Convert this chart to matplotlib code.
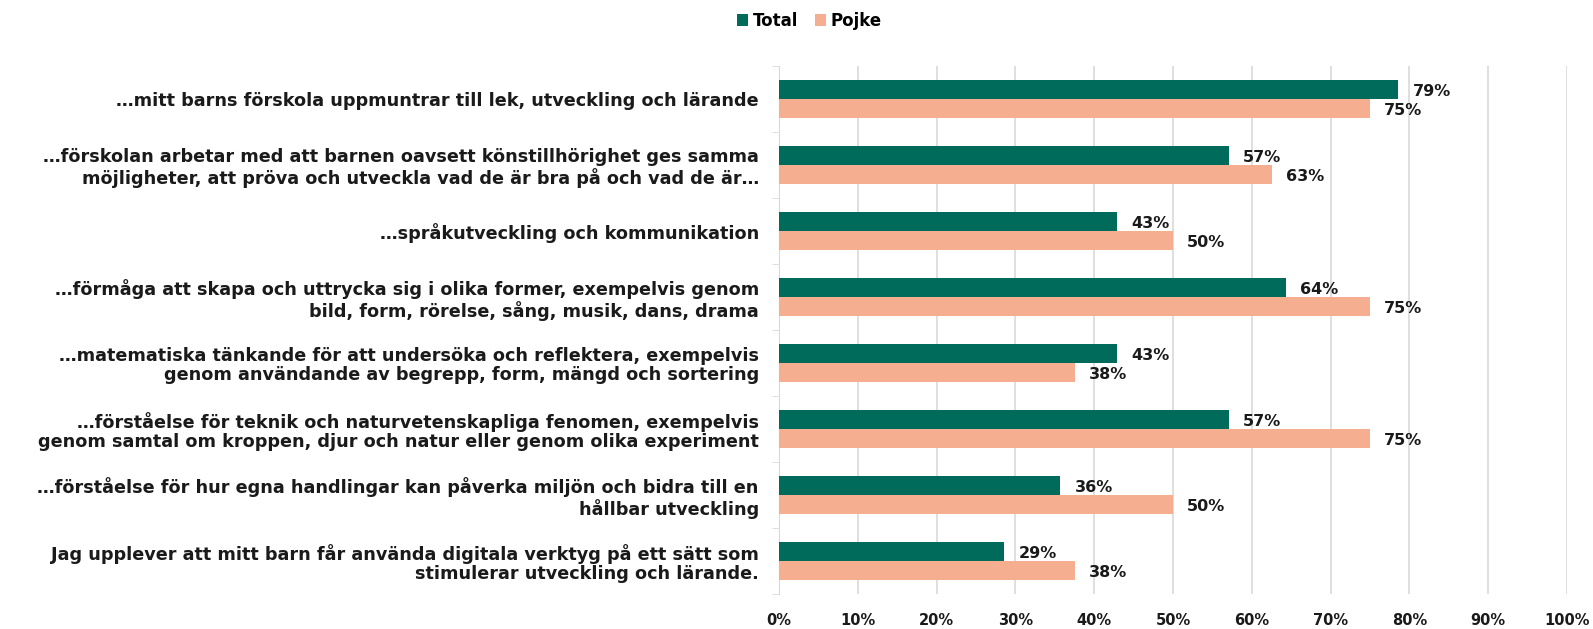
import numpy as np
import matplotlib.pyplot as plt
from matplotlib.ticker import FuncFormatter, FixedLocator

categories = [
    '…mitt barns förskola uppmuntrar till lek, utveckling och lärande',
    '…förskolan arbetar med att barnen oavsett könstillhörighet ges samma\nmöjligheter, att pröva och utveckla vad de är bra på och vad de är…',
    '…språkutveckling och kommunikation',
    '…förmåga att skapa och uttrycka sig i olika former, exempelvis genom\nbild, form, rörelse, sång, musik, dans, drama',
    '…matematiska tänkande för att undersöka och reflektera, exempelvis\ngenom användande av begrepp, form, mängd och sortering',
    '…förståelse för teknik och naturvetenskapliga fenomen, exempelvis\ngenom samtal om kroppen, djur och natur eller genom olika experiment',
    '…förståelse för hur egna handlingar kan påverka miljön och bidra till en\nhållbar utveckling',
    'Jag upplever att mitt barn får använda digitala verktyg på ett sätt som\nstimulerar utveckling och lärande.',
]
total = [78.6, 57.1, 42.9, 64.3, 42.9, 57.1, 35.7, 28.6]
pojke = [75.0, 62.5, 50.0, 75.0, 37.5, 75.0, 50.0, 37.5]
series = ['Total', 'Pojke']
colors = ['#006B5A', '#F6AE90']

plt.rcParams['font.family'] = ['DejaVu Sans']
plt.rcParams['font.weight'] = 'bold'
txt = '#1a1a1a'

def pct(v):
    # round half up, like the source chart does (62.5 -> 63%)
    return f'{int(v + 0.5)}%'

fig = plt.figure(figsize=(15.93, 6.29), dpi=100)
ax = fig.add_axes([779 / 1593, 35 / 629, 788 / 1593, 528 / 629])

y = np.arange(len(categories))
h = 0.29
ax.barh(y - h / 2, total, height=h, color=colors[0], label=series[0], zorder=3)
ax.barh(y + h / 2, pojke, height=h, color=colors[1], label=series[1], zorder=3)

for i in range(len(categories)):
    ax.text(total[i] + 1.8, y[i] - h / 2 + 0.03, pct(total[i]), va='center',
            ha='left', fontsize=11.5, color=txt)
    ax.text(pojke[i] + 1.8, y[i] + h / 2 + 0.03, pct(pojke[i]), va='center',
            ha='left', fontsize=11.5, color=txt)

ax.set_xlim(0, 100)
ax.set_ylim(len(categories) - 0.5, -0.5)
ax.set_xticks(np.arange(0, 101, 10))
ax.xaxis.set_major_formatter(FuncFormatter(lambda v, p: f'{int(v)}%'))
ax.tick_params(axis='x', length=0, labelsize=10.5, pad=14, colors=txt)

ax.set_yticks(y)
ax.set_yticklabels(categories, fontsize=12.7, color=txt, ha='right', linespacing=1.1)
ax.tick_params(axis='y', which='major', length=0, pad=14.5)
ax.yaxis.set_minor_locator(FixedLocator(np.arange(-0.5, len(categories), 1)))
ax.tick_params(axis='y', which='minor', length=5, color='#d9d9d9')

ax.grid(axis='x', color='#d9d9d9', linewidth=1.2, zorder=0)
for s in ['top', 'right', 'bottom']:
    ax.spines[s].set_visible(False)
ax.spines['left'].set_color('#d9d9d9')

leg = fig.legend(loc='upper center', bbox_to_anchor=(0.508, 1.005), ncol=2, frameon=False,
                 fontsize=12, handlelength=0.7, handleheight=0.7, handletextpad=0.25,
                 columnspacing=1.0)

fig.savefig('out.png', dpi=100)
